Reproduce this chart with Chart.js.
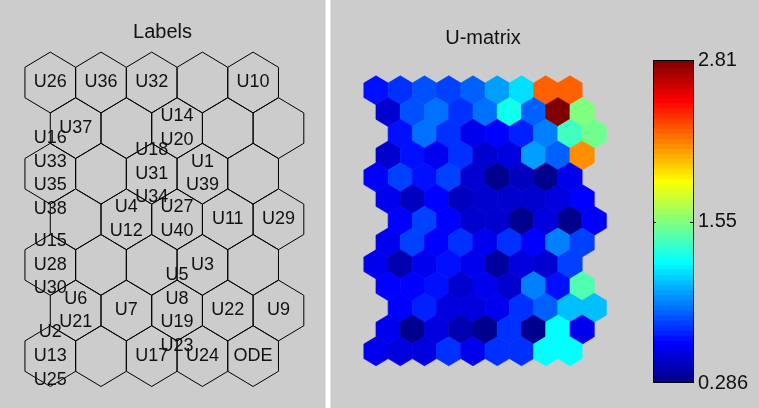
<!DOCTYPE html>
<html>
<head>
<meta charset="utf-8">
<script src="https://cdn.jsdelivr.net/npm/chart.js@4.4.0/dist/chart.umd.min.js"></script>
<style>
  html, body { margin: 0; padding: 0; background: #cccccc; }
  #wrap { position: relative; width: 759px; height: 408px; overflow: hidden; background: #cccccc; }
  canvas { position: absolute; top: 0; }
  #sep { position: absolute; left: 325px; top: 0; width: 4px; height: 408px; background: #ffffff;
         border-left: 1px solid #e2e2e2; border-right: 1px solid #e2e2e2; }
</style>
</head>
<body>
<div id="wrap">
  <canvas id="lab" width="325" height="408" style="left:0"></canvas>
  <div id="sep"></div>
  <canvas id="umat" width="306" height="408" style="left:330px"></canvas>
  <canvas id="cbar" width="123" height="408" style="left:636px"></canvas>
</div>
<script>
// ---- SOM map: 7 rows x 5 columns, hexagonal lattice (odd rows shifted right) ----
const unitLabels = [
  [["U26"], ["U36"], ["U32"], [], ["U10"]],
  [["U37"], [], ["U14", "U20"], [], []],
  [["U16", "U33", "U35", "U38"], [], ["U18", "U31", "U34"], ["U1", "U39"], []],
  [[], ["U4", "U12"], ["U27", "U40"], ["U11"], ["U29"]],
  [["U15", "U28", "U30"], [], [], ["U3"], []],
  [["U6", "U21"], ["U7"], ["U5", "U8", "U19", "U23"], ["U22"], ["U9"]],
  [["U2", "U13", "U25"], [], ["U17"], ["U24"], ["ODE"]]
];

// ---- U-matrix: 13 rows x 9 columns of neighbour distances ----
const umatRows = [
  [0.621, 0.700, 0.779, 0.740, 0.818, 0.976, 1.134, 2.239, 2.230],
  [0.463, 0.779, 0.858, 0.700, 0.858, 1.252, 0.818, 2.810, 1.528],
  [0.621, 0.858, 0.700, 0.542, 0.582, 0.661, 0.897, 1.371, 1.489],
  [0.463, 0.621, 0.542, 0.700, 0.463, 0.503, 0.976, 0.818, 2.120],
  [0.582, 0.740, 0.621, 0.740, 0.463, 0.306, 0.424, 0.286, 0.542],
  [0.542, 0.424, 0.582, 0.424, 0.463, 0.463, 0.463, 0.503, 0.582],
  [0.582, 0.740, 0.582, 0.463, 0.463, 0.306, 0.503, 0.310, 0.582],
  [0.542, 0.740, 0.582, 0.700, 0.542, 0.700, 0.582, 0.897, 0.740],
  [0.542, 0.385, 0.542, 0.621, 0.542, 0.345, 0.503, 0.463, 0.740],
  [0.582, 0.582, 0.621, 0.463, 0.542, 0.463, 0.897, 0.621, 1.410],
  [0.582, 0.661, 0.503, 0.503, 0.542, 0.700, 0.818, 1.055, 1.055],
  [0.542, 0.306, 0.503, 0.385, 0.306, 0.700, 0.306, 1.213, 0.542],
  [0.542, 0.503, 0.503, 0.700, 0.542, 0.700, 0.700, 1.213, 1.213]
];

// ---- colour bar ticks ----
const cbTickValues = [0.286, 1.548, 2.81];
const cbTickLabels = ["0.286", "1.55", "2.81"];

const FONT = "'Liberation Sans', Arial, Helvetica, sans-serif";
const TEXT = "#111111";

// MATLAB-style jet(64) colormap
function jet64() {
  const n = 64, m = 16, u = [];
  for (let i = 1; i <= m; i++) u.push(i / m);
  for (let i = 0; i < m - 1; i++) u.push(1);
  for (let i = m; i >= 1; i--) u.push(i / m);
  const J = Array.from({ length: n }, () => [0, 0, 0]);
  for (let k = 0; k < u.length; k++) {
    const g = 8 + k + 1, r = g + m, b = g - m;
    if (r >= 1 && r <= n) J[r - 1][0] = u[k];
    if (g >= 1 && g <= n) J[g - 1][1] = u[k];
    if (b >= 1 && b <= n) J[b - 1][2] = u[k];
  }
  return J.map(c => `rgb(${Math.round(c[0] * 255)},${Math.round(c[1] * 255)},${Math.round(c[2] * 255)})`);
}
const jet = jet64();
const allU = umatRows.flat();
const cmin = Math.min(...allU), cmax = Math.max(...allU);
function colorFor(v) {
  let k = Math.floor((v - cmin) / (cmax - cmin) * jet.length);
  k = Math.max(0, Math.min(jet.length - 1, k));
  return jet[k];
}

// hexagon outline around a lattice point, in scale units
function hexPath(ctx, xs, ys, cx, cy) {
  const xl = xs.getPixelForValue(cx - 0.5), xm = xs.getPixelForValue(cx), xr = xs.getPixelForValue(cx + 0.5);
  const py = k => ys.getPixelForValue(cy + k);
  ctx.beginPath();
  ctx.moveTo(xm, py(-2 / 3));
  ctx.lineTo(xr, py(-1 / 3));
  ctx.lineTo(xr, py(1 / 3));
  ctx.lineTo(xm, py(2 / 3));
  ctx.lineTo(xl, py(1 / 3));
  ctx.lineTo(xl, py(-1 / 3));
  ctx.closePath();
}

const hexCells = {
  id: 'hexCells',
  afterDatasetsDraw(chart, args, opts) {
    const { ctx } = chart;
    const xs = chart.scales.x, ys = chart.scales.y;
    const data = chart.data.datasets[0].data;
    ctx.save();
    data.forEach(d => {
      hexPath(ctx, xs, ys, d.x, d.y);
      if (opts.filled) {
        const c = colorFor(d.v);
        ctx.fillStyle = c; ctx.fill();
        ctx.strokeStyle = c; ctx.lineWidth = 0.7; ctx.stroke();
      } else {
        ctx.strokeStyle = '#000000'; ctx.lineWidth = 1; ctx.stroke();
      }
    });
    if (opts.labels) {
      ctx.fillStyle = TEXT;
      ctx.font = `18px ${FONT}`;
      ctx.textAlign = 'center';
      ctx.textBaseline = 'middle';
      const lineH = 23.6;
      data.forEach(d => {
        const n = d.labels.length;
        const px = xs.getPixelForValue(d.x), py = ys.getPixelForValue(d.y);
        d.labels.forEach((t, k) => ctx.fillText(t, px, py + (k - (n - 1) / 2) * lineH));
      });
    }
    ctx.restore();
  }
};

const baseOpts = {
  responsive: false, animation: false, devicePixelRatio: 1,
  events: [],
  layout: { padding: 0 },
  elements: { point: { radius: 0, hoverRadius: 0 } }
};

// ---- Labels map ----
const labPoints = [];
unitLabels.forEach((row, r) => row.forEach((labs, c) => {
  labPoints.push({ x: c + (r % 2 ? 0.5 : 0), y: r, labels: labs });
}));
new Chart(document.getElementById('lab'), {
  type: 'scatter',
  data: { datasets: [{ data: labPoints, pointRadius: 0 }] },
  options: Object.assign({}, baseOpts, {
    scales: {
      x: { type: 'linear', display: false, min: -0.9921, max: 5.418 },
      y: { type: 'linear', display: false, reverse: true, min: -0.8443, max: 7.1382 }
    },
    plugins: {
      legend: { display: false }, tooltip: { enabled: false },
      title: { display: true, text: 'Labels', color: TEXT,
               font: { family: FONT, size: 20, weight: 'normal' }, padding: { top: 20, bottom: 0 } },
      hexCells: { filled: false, labels: true }
    }
  }),
  plugins: [hexCells]
});

// ---- U-matrix ----
const rowShift = [0, 0.5, 1, 0.5];
const umPoints = [];
umatRows.forEach((row, r) => row.forEach((v, c) => {
  umPoints.push({ x: c + rowShift[r % 4], y: r, v: v });
}));
new Chart(document.getElementById('umat'), {
  type: 'scatter',
  data: { datasets: [{ data: umPoints, pointRadius: 0 }] },
  options: Object.assign({}, baseOpts, {
    scales: {
      x: { type: 'linear', display: false, min: -1.897, max: 10.722 },
      y: { type: 'linear', display: false, reverse: true, min: -1.853, max: 14.607 }
    },
    plugins: {
      legend: { display: false }, tooltip: { enabled: false },
      title: { display: true, text: 'U-matrix', color: TEXT,
               font: { family: FONT, size: 20, weight: 'normal' }, padding: { top: 26, bottom: 0 } },
      hexCells: { filled: true, labels: false }
    }
  }),
  plugins: [hexCells]
});

// ---- colour bar ----
const bandStep = (cmax - cmin) / jet.length;
const barFrame = {
  id: 'barFrame',
  afterDraw(chart) {
    const { ctx, chartArea: a } = chart;
    const ys = chart.scales.y;
    ctx.save();
    ctx.strokeStyle = '#000000'; ctx.lineWidth = 1;
    ctx.strokeRect(Math.round(a.left) + 0.5, Math.round(a.top) + 0.5,
                   Math.round(a.width) - 1, Math.round(a.height) - 1);
    cbTickValues.slice(1, -1).forEach(v => {
      const py = Math.round(ys.getPixelForValue(v)) + 0.5;
      ctx.beginPath();
      ctx.moveTo(a.left, py); ctx.lineTo(a.left + 3, py);
      ctx.moveTo(a.right - 4, py); ctx.lineTo(a.right, py);
      ctx.stroke();
    });
    ctx.restore();
  }
};
new Chart(document.getElementById('cbar'), {
  type: 'bar',
  data: {
    labels: [''],
    datasets: jet.map((col, k) => ({
      data: [[cmin + k * bandStep, Math.min(cmax, cmin + (k + 1.3) * bandStep)]],
      backgroundColor: col, borderWidth: 0, grouped: false,
      barPercentage: 1, categoryPercentage: 1
    }))
  },
  options: Object.assign({}, baseOpts, {
    layout: { padding: { left: 17, top: 60, right: 0, bottom: 25 } },
    scales: {
      x: { display: false },
      y: {
        type: 'linear', position: 'right', min: cmin, max: cmax,
        afterBuildTicks: s => { s.ticks = cbTickValues.map(v => ({ value: v })); },
        afterFit: s => { s.width = 65; },
        grid: { display: false, drawTicks: false },
        border: { display: false },
        ticks: { autoSkip: false, padding: 4, color: TEXT,
                 font: { family: FONT, size: 20 },
                 callback: (v, i) => cbTickLabels[i] }
      }
    },
    plugins: { legend: { display: false }, tooltip: { enabled: false } }
  }),
  plugins: [barFrame]
});
</script>
</body>
</html>
